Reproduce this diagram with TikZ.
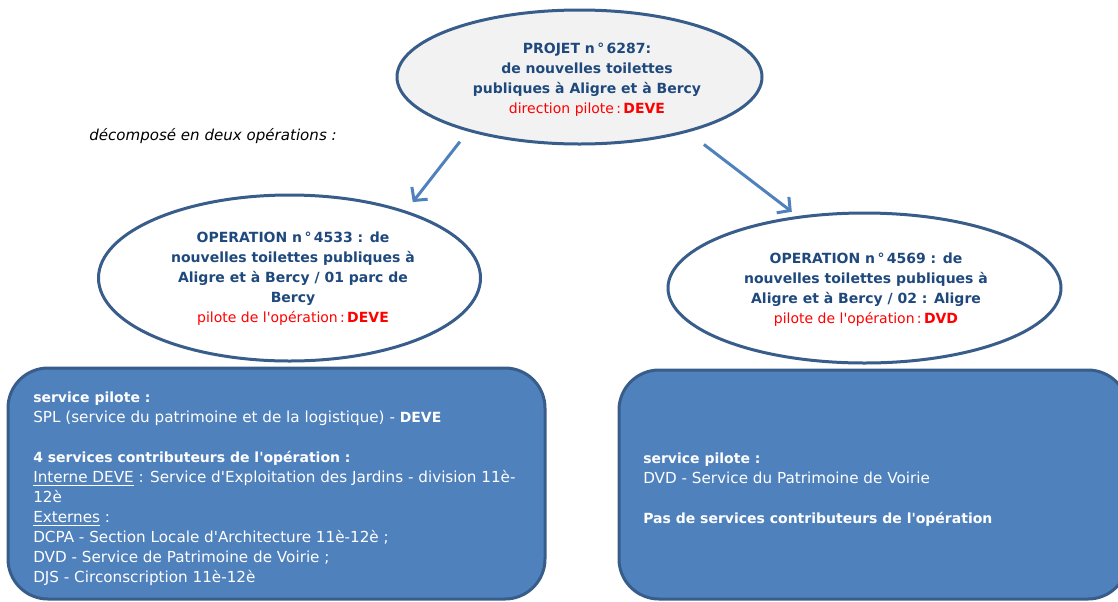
\documentclass[tikz,border=0pt]{standalone}
\usepackage{fontspec}
\setmainfont{DejaVu Sans}
\usetikzlibrary{shapes.geometric,arrows.meta}
\definecolor{outline}{HTML}{385D8A}
\definecolor{accent}{HTML}{4F81BD}
\definecolor{titleblue}{HTML}{1F497D}
\definecolor{pale}{HTML}{F2F2F2}
\definecolor{alert}{HTML}{FF0000}
% bold headings inside the panels are set a little smaller than the body text
\newcommand\panelhead[1]{{\fontsize{10.5}{15}\selectfont\bfseries #1}}
\newcommand\apos{\textquotesingle}
\begin{document}
\begin{tikzpicture}[x=0.75pt,y=-0.75pt,
  oval/.style={ellipse, draw=outline, line width=2.25pt, inner sep=0pt},
  ovaltext/.style={align=center, text=titleblue, inner sep=0pt,
    font=\fontsize{10.5}{15}\selectfont\bfseries},
  panel/.style={rectangle, draw=outline, line width=2.25pt, fill=accent,
    rounded corners=30pt, inner sep=0pt},
  paneltext/.style={align=left, text=white, anchor=north west, inner sep=0pt,
    font=\fontsize{11.4}{15}\selectfont},
  link/.style={draw=accent, line width=2.25pt,
    -{Straight Barb[length=7pt,width=15pt,line width=2.25pt]}}
]
\useasboundingbox (0,0) rectangle (1118,601);

% the project and its two operations
\node[oval, fill=pale, minimum width=273.75pt, minimum height=100.5pt] (projet) at (579.5,77) {};
\node[oval, fill=white, minimum width=286.5pt, minimum height=124.5pt] (op1) at (289.5,278) {};
\node[oval, fill=white, minimum width=294.75pt, minimum height=112.5pt] (op2) at (864.5,288) {};

\node[ovaltext] (projettxt) at (587,80) {PROJET n\,°\,6287:\\de nouvelles toilettes\\publiques à Aligre et à Bercy\\
  {\color{alert}\mdseries direction pilote\,:\,\bfseries DEVE}};
\node[ovaltext] (op1txt) at (293,278.5) {OPERATION n\,°\,4533 : de\\nouvelles toilettes publiques à\\Aligre et à Bercy / 01 parc de\\Bercy\\
  {\color{alert}\mdseries pilote de l\apos opération\,:\,\bfseries DEVE}};
\node[ovaltext] (op2txt) at (866,290) {OPERATION n\,°\,4569 : de\\nouvelles toilettes publiques à\\Aligre et à Bercy / 02 : Aligre\\
  {\color{alert}\mdseries pilote de l\apos opération\,:\,\bfseries DVD}};

\node[anchor=west, inner sep=0pt, font=\fontsize{11.3}{14}\selectfont\itshape] (note) at (89,136) {décomposé en deux opérations :};

% decomposition arrows
\draw[link, shorten <=9.75pt, shorten >=8.25pt] (projet.206.6) -- (op1.30.4);
\draw[link, shorten <=15pt, shorten >=5.25pt] (projet.333.4) -- (op2.133.1);

% service panels
\node[panel, minimum width=402.75pt, minimum height=173.25pt] (panel1) at (276.5,483.5) {};
\node[panel, minimum width=381.75pt, minimum height=171.75pt] (panel2) at (873.5,484.5) {};

\node[paneltext] (panel1txt) at (33,392) {\panelhead{service pilote :}\\
  SPL (service du patrimoine et de la logistique) - \panelhead{DEVE}\\[15pt]
  \panelhead{4 services contributeurs de l\apos opération :}\\
  \underline{Interne DEVE} : Service d\apos Exploitation des Jardins - division 11è-\\
  12è\\
  \underline{Externes} :\\
  DCPA - Section Locale d\apos Architecture 11è-12è ;\\
  DVD - Service de Patrimoine de Voirie ;\\
  DJS - Circonscription 11è-12è};

\node[paneltext] (panel2txt) at (643,453) {\panelhead{service pilote :}\\
  DVD - Service du Patrimoine de Voirie\\[15pt]
  \panelhead{Pas de services contributeurs de l\apos opération}};
\end{tikzpicture}
\end{document}
